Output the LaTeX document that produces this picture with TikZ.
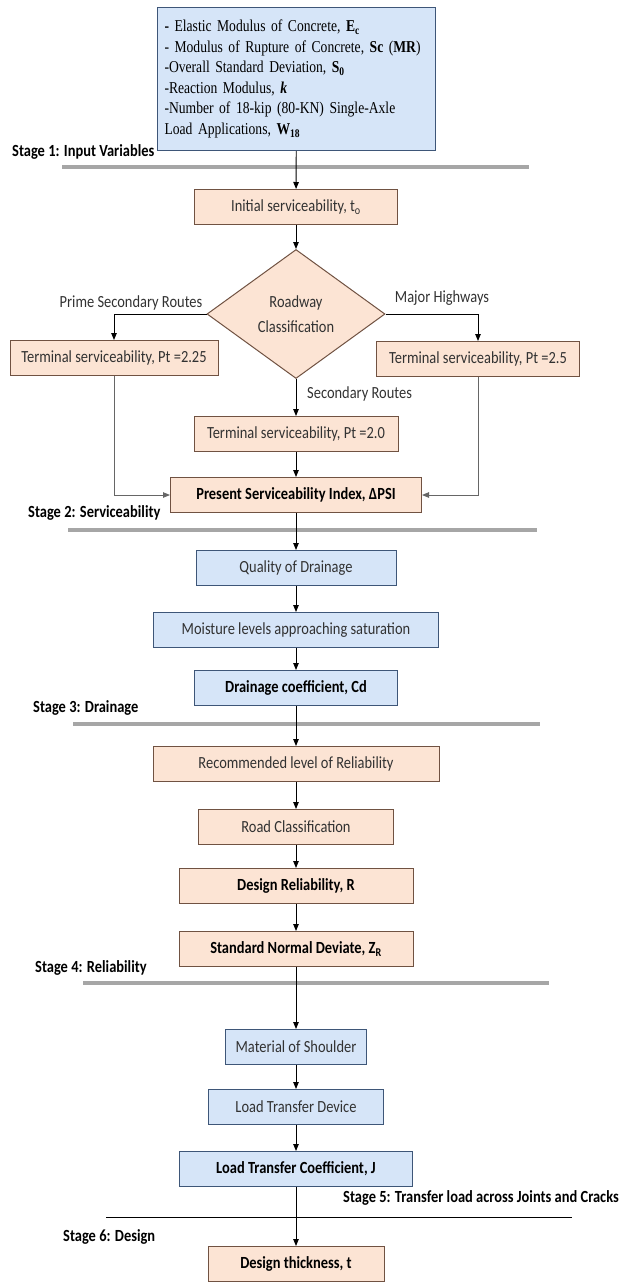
\documentclass[tikz,border=0pt]{standalone}
\usepackage{fontspec}
\usepackage{tikz}
\usetikzlibrary{shapes.geometric,arrows.meta}
\newfontfamily\boxfont{Carlito}[FakeStretch=0.85]
\newfontfamily\romfont{Liberation Serif}[FakeStretch=0.82]
\definecolor{peach}{RGB}{252,228,212}
\definecolor{peachedge}{RGB}{112,82,66}
\definecolor{skyfill}{RGB}{214,229,248}
\definecolor{skyedge}{RGB}{62,86,120}
\definecolor{stagegray}{RGB}{166,166,166}
\definecolor{txtgray}{RGB}{50,50,50}

\begin{document}
\begin{tikzpicture}
[x=1pt,y=-1pt,
 box/.style={draw,line width=1pt,minimum height=35pt,inner sep=0pt,font=\boxfont\fontsize{17}{20}\selectfont,text=txtgray},
 orbox/.style={box,fill=peach,draw=peachedge},
 bluebox/.style={box,fill=skyfill,draw=skyedge},
 key/.style={font=\boxfont\bfseries\fontsize{17}{20}\selectfont,text=black},
 arr/.style={-{Triangle[length=7pt,width=5.5pt]},line width=0.9pt},
 side/.style={arr,draw=black!60},
 route/.style={inner sep=0pt,font=\boxfont\fontsize{17}{20}\selectfont,text=txtgray},
 stage/.style={anchor=west,inner sep=0pt,font=\boxfont\bfseries\fontsize{17}{19}\selectfont},
 divider/.style={line width=3.5pt,stagegray}]
\useasboundingbox (0,0) rectangle (621,1283);
% stage dividers
\draw[divider] (62,167) -- (529,167); \draw[divider] (68,530) -- (537,530);
\draw[divider] (73,724) -- (540,724); \draw[divider] (83,983) -- (549,983);
\draw[line width=1pt] (106,1217) -- (572,1217);
% stage 1
\node[bluebox,anchor=north west,minimum width=278pt,minimum height=143pt,text width=264pt,align=left,text=black,font=\romfont\fontsize{16.6}{20.6}\selectfont] (inp) at (157,7)
{\textbf{-} Elastic Modulus of Concrete, \textbf{E\textsubscript{c}}\\
- Modulus of Rupture of Concrete, \textbf{Sc}~(\textbf{MR})\\
-Overall Standard Deviation, \textbf{S\textsubscript{0}}\\
-Reaction Modulus, \textbf{\textit{k}}\\
-Number of 18-kip (80-KN) Single-Axle\\
Load Applications, \textbf{W\textsubscript{18}}};
\node[stage] (s1) at (12,152) {Stage 1: Input Variables};
% stage 2
\node[orbox,minimum width=203pt] (init) at (296,207) {Initial serviceability, t\textsubscript{o}};
\node[diamond,draw=peachedge,fill=peach,line width=1pt,minimum width=178pt,minimum height=129pt,inner sep=0pt,align=center,font=\boxfont\fontsize{17}{25}\selectfont,text=txtgray] (cls) at (296,314) {Roadway\\Classification};
\node[orbox,minimum width=208pt] (tl) at (114,358) {Terminal serviceability, Pt =2.25};
\node[orbox,minimum width=203pt] (tr) at (478,359) {Terminal serviceability, Pt =2.5};
\node[orbox,minimum width=204pt] (tm) at (296,434) {Terminal serviceability, Pt =2.0};
\node[orbox,key,minimum width=251pt] (psi) at (296,495) {Present Serviceability Index, ΔPSI};
\node[route] (prime) at (131,303) {Prime Secondary Routes};
\node[route] (major) at (442,298) {Major Highways};
\node[route,anchor=west] (second) at (307,394) {Secondary Routes};
\node[stage] (s2) at (28,513) {Stage 2: Serviceability};
% stage 3
\node[bluebox,minimum width=200pt] (qual) at (296,568) {Quality of Drainage};
\node[bluebox,minimum width=285pt] (moist) at (296,630) {Moisture levels approaching saturation};
\node[bluebox,key,minimum width=203pt] (drain) at (296,688) {Drainage coefficient, Cd};
\node[stage] (s3) at (33,708) {Stage 3: Drainage};
% stage 4
\node[orbox,minimum width=286pt] (rec) at (296,764) {Recommended level of Reliability};
\node[orbox,minimum width=195pt] (road) at (296,827) {Road Classification};
\node[orbox,key,minimum width=234pt] (drel) at (296,886) {Design Reliability, R};
\node[orbox,key,minimum width=234pt] (znorm) at (296,949) {Standard Normal Deviate, Z\textsubscript{R}};
\node[stage] (s4) at (35,968) {Stage 4: Reliability};
% stage 5 and 6
\node[bluebox,minimum width=141pt] (mat) at (296,1047) {Material of Shoulder};
\node[bluebox,minimum width=175pt] (ltd) at (296,1107) {Load Transfer Device};
\node[bluebox,key,minimum width=233pt] (ltc) at (296,1169) {Load Transfer Coefficient, J};
\node[stage,anchor=east] (s5) at (619,1198) {Stage 5: Transfer load across Joints and Cracks};
\node[stage] (s6) at (63,1237) {Stage 6: Design};
\node[orbox,key,minimum width=176pt] (thick) at (296,1264) {Design thickness, t};
% connectors
\draw[arr] (inp) -- (init); \draw[arr] (init) -- (cls);
\draw[arr] (cls.west) -| (tl); \draw[arr] (cls.east) -| (tr); \draw[arr] (cls) -- (tm);
\draw[side] (tl) |- (psi); \draw[side] (tr) |- (psi); \draw[arr] (tm) -- (psi);
\draw[arr] (psi) -- (qual); \draw[arr] (qual) -- (moist); \draw[arr] (moist) -- (drain);
\draw[arr] (drain) -- (rec); \draw[arr] (rec) -- (road); \draw[arr] (road) -- (drel);
\draw[arr] (drel) -- (znorm); \draw[arr] (znorm) -- (mat); \draw[arr] (mat) -- (ltd);
\draw[arr] (ltd) -- (ltc); \draw[arr] (ltc) -- (thick);
\end{tikzpicture}
\end{document}
